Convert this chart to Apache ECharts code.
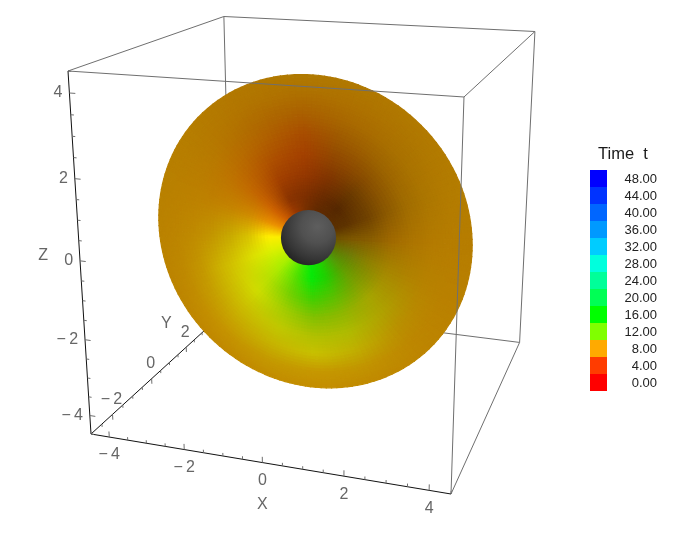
<!DOCTYPE html>
<html>
<head>
<meta charset="utf-8">
<style>html,body{margin:0;padding:0;background:#fff}#c{width:680px;height:537px}</style>
<script src="https://cdn.jsdelivr.net/npm/echarts@6/dist/echarts.min.js"></script>
</head>
<body>
<div id="c"></div>
<script>
// ---- data ----
const xRange = [-4.5, 4.5];
const yRange = [-3, 5];
const zRange = [-4.5, 4.5];
const xMajor = [-4, -2, 0, 2, 4];
const yMajor = [-2, 0, 2, 4];
const zMajor = [-4, -2, 0, 2, 4];
const xMinor = [-4.5, -3.5, -3, -2.5, -1.5, -1, -0.5, 0.5, 1, 1.5, 2.5, 3, 3.5, 4.5];
const yMinor = [-2.5, -1.5, -1, -0.5, 0.5, 1, 1.5, 2.5, 3, 3.5, 4.5];
const zMinor = [-4.5, -3.5, -3, -2.5, -1.5, -1, -0.5, 0.5, 1, 1.5, 2.5, 3, 3.5, 4.5];
const legendTitle = 'Time  t';
const legendValues = ['0.00', '4.00', '8.00', '12.00', '16.00', '20.00', '24.00', '28.00', '32.00', '36.00', '40.00', '44.00', '48.00'];
const legendColors = ['#ff0000', '#ff3c00', '#ffaa00', '#80ff00', '#00ff00', '#00ff55', '#00ff99', '#00ffdd', '#00ccff', '#0099ff', '#0066ff', '#0033ff', '#0000ff'];

// disc samples: radial fractions, screen bearings (deg, clockwise from east), colour per bearing from centre to rim
const discRings = [0.14, 0.27, 0.40, 0.52, 0.65, 0.77, 0.89, 1.0];
const discBearings = [0, 20, 45, 70, 90, 110, 135, 160, 180, 200, 220, 245, 270, 290, 315, 340];
const discColors = [
  ['#6a5000', '#7d5800', '#8a5f00', '#a06a00', '#ad7500', '#b47b00', '#b67d00', '#b67d00'],
  ['#5f7000', '#6f7a08', '#8e8000', '#a58400', '#b08300', '#b78200', '#b98000', '#b98000'],
  ['#45a010', '#5aa000', '#7da000', '#a5a500', '#b0a000', '#b99000', '#bd8700', '#bd8500'],
  ['#20d800', '#20d000', '#58c000', '#8cb800', '#b0bb00', '#c0b000', '#c29500', '#c08a00'],
  ['#08ec08', '#08e808', '#40d000', '#80c000', '#b0c000', '#c8c000', '#c69800', '#c48e00'],
  ['#40f000', '#50e000', '#70d000', '#a0cc00', '#c0c800', '#c6b500', '#c49a00', '#c28c00'],
  ['#a8f000', '#a8ee00', '#b8e000', '#d0dc00', '#ccc000', '#c8a800', '#c59200', '#c08800'],
  ['#d8f000', '#dcf000', '#dce000', '#d4c800', '#ccb000', '#c49800', '#bf8a00', '#bc8400'],
  ['#f8f000', '#ffee00', '#d8c000', '#c8a800', '#c29400', '#bf8a00', '#bc8400', '#ba8200'],
  ['#f09000', '#e89000', '#cf8a00', '#c58400', '#bf8000', '#bc8000', '#ba8000', '#b88000'],
  ['#d06000', '#cc6000', '#c46500', '#c06c00', '#bc7400', '#b87a00', '#b67c00', '#b67e00'],
  ['#a03c00', '#8a3400', '#a24000', '#ae5000', '#b26200', '#b06c00', '#b27500', '#b27800'],
  ['#703000', '#7c2f00', '#953800', '#a34000', '#a84c00', '#aa5f00', '#ae7000', '#b07a00'],
  ['#5d2a00', '#6a2c00', '#803400', '#8f4500', '#9c5800', '#a86800', '#ae7200', '#b07800'],
  ['#5e2e00', '#552800', '#6b3b00', '#874d00', '#9c6300', '#a87000', '#ae7600', '#b27a00'],
  ['#5a3000', '#5f3400', '#704200', '#8a5800', '#a06c00', '#ab7600', '#b27b00', '#b47d00']
];

// ---- view: perspective of the box, and the tilted disc ----
const VIEW = { O: [91, 434], A: [451, 494], B: [231.2, 306.1], C: [68, 71], a: 0.9086, b: 1.27, c: 0.9121 };
const DISC = { centre: [315.5, 231.2], major: 163.5, minor: 149.5, shift: 9.2 };
const SPHERE_R = 27.6;
const LABEL_FONT = '16px "Liberation Sans", Arial, sans-serif';
const GREY = '#6f6f6f';

function project(x, y, z) {
  const u = (x - xRange[0]) / (xRange[1] - xRange[0]);
  const v = (y - yRange[0]) / (yRange[1] - yRange[0]);
  const w = (z - zRange[0]) / (zRange[1] - zRange[0]);
  const den = 1 + (VIEW.a - 1) * u + (VIEW.b - 1) * v + (VIEW.c - 1) * w;
  const out = [0, 1].map(i =>
    (VIEW.O[i] + (VIEW.a * VIEW.A[i] - VIEW.O[i]) * u + (VIEW.b * VIEW.B[i] - VIEW.O[i]) * v + (VIEW.c * VIEW.C[i] - VIEW.O[i]) * w) / den);
  return out;
}
function discPoint(rho, bearing) {
  const th = (bearing - 45) * Math.PI / 180;
  const s = rho * Math.cos(th), t = rho * Math.sin(th);
  const k = DISC.shift / DISC.minor;
  const den = 1 + k * t;
  const p = DISC.major * Math.sqrt(1 - k * k) * s / den;
  const q = (DISC.minor * t + DISC.shift) / den;
  const r = Math.SQRT1_2;
  return [DISC.centre[0] + p * r - q * r, DISC.centre[1] + p * r + q * r];
}
function rgb(h) { return [1, 3, 5].map(i => parseInt(h.substr(i, 2), 16)); }
function mix(a, b, f) { return a.map((c, i) => c + (b[i] - c) * f); }

// box edges as pairs of ends
const X0 = xRange[0], X1 = xRange[1], Y0 = yRange[0], Y1 = yRange[1], Z0 = zRange[0], Z1 = zRange[1];
const backEdges = [
  [X0, Y1, Z0, X1, Y1, Z0], [X0, Y1, Z0, X0, Y1, Z1], [X1, Y1, Z0, X1, Y1, Z1],
  [X0, Y1, Z1, X1, Y1, Z1], [X0, Y0, Z1, X0, Y1, Z1], [X1, Y0, Z1, X1, Y1, Z1], [X1, Y0, Z0, X1, Y1, Z0]
];
const frontEdges = [[X0, Y0, Z1, X1, Y0, Z1], [X1, Y0, Z0, X1, Y0, Z1]];
const axisEdges = [[X0, Y0, Z0, X1, Y0, Z0], [X0, Y0, Z0, X0, Y0, Z1]];
const hiddenAxisEdge = [[X0, Y0, Z0, X0, Y1, Z0]];

function tickSegs(list, len, make) { return list.map(t => make(t, len)); }
const MAJ = 0.15, MIN = 0.08;
const xTickF = (t, l) => [t, Y0, Z0, t, Y0, Z0 + l];
const yTickF = (t, l) => [X0, t, Z0, X0, t, Z0 - l];
const zTickF = (t, l) => [X0, Y0, t, X0 + l, Y0, t];
const frontTicks = [].concat(
  tickSegs(xMajor, MAJ, xTickF), tickSegs(xMinor, MIN, xTickF),
  tickSegs(zMajor, MAJ, zTickF), tickSegs(zMinor, MIN, zTickF));
const hiddenTicks = [].concat(tickSegs(yMajor, MAJ, yTickF), tickSegs(yMinor, MIN, yTickF));

function lineSeries(data, color, z) {
  return {
    type: 'custom', coordinateSystem: 'cartesian2d', xAxisIndex: 0, yAxisIndex: 0, z, clip: false, silent: true, animation: false,
    data,
    renderItem(params, api) {
      const d = data[params.dataIndex];
      const p = api.coord(project(d[0], d[1], d[2])), q = api.coord(project(d[3], d[4], d[5]));
      return { type: 'line', shape: { x1: p[0], y1: p[1], x2: q[0], y2: q[1] }, style: { stroke: color, lineWidth: 1 }, silent: true };
    }
  };
}

// disc cells
const cells = [];
discBearings.forEach((b, i) => discRings.slice(0, -1).forEach((r, j) => cells.push([i, j])));
const SUB_A = 10, SUB_R = 6;
const discSeries = {
  type: 'custom', coordinateSystem: 'cartesian2d', xAxisIndex: 0, yAxisIndex: 0, z: 5, clip: false, silent: true, animation: false,
  progressive: 0, data: cells,
  renderItem(params, api) {
    const [i, j] = cells[params.dataIndex];
    const i2 = (i + 1) % discBearings.length;
    const b0 = discBearings[i], b1 = i2 === 0 ? 360 : discBearings[i2];
    const r0 = discRings[j], r1 = discRings[j + 1];
    const c00 = rgb(discColors[i][j]), c01 = rgb(discColors[i][j + 1]), c10 = rgb(discColors[i2][j]), c11 = rgb(discColors[i2][j + 1]);
    const children = [];
    for (let a = 0; a < SUB_A; a++) for (let n = 0; n < SUB_R; n++) {
      const fa0 = a / SUB_A, fa1 = (a + 1) / SUB_A, fr0 = n / SUB_R, fr1 = (n + 1) / SUB_R;
      const B0 = b0 + (b1 - b0) * fa0, B1 = b0 + (b1 - b0) * fa1, R0 = r0 + (r1 - r0) * fr0, R1 = r0 + (r1 - r0) * fr1;
      const pts = [[R0, B0], [R1, B0], [R1, B1], [R0, B1]].map(q => api.coord(discPoint(q[0], q[1])));
      const fa = (fa0 + fa1) / 2, fr = (fr0 + fr1) / 2;
      const c = mix(mix(c00, c01, fr), mix(c10, c11, fr), fa).map(Math.round);
      const col = 'rgb(' + c.join(',') + ')';
      children.push({ type: 'polygon', shape: { points: pts }, style: { fill: col, stroke: col, lineWidth: 1.2 }, silent: true });
    }
    return { type: 'group', children };
  }
};

const sphereSeries = {
  type: 'custom', coordinateSystem: 'cartesian2d', xAxisIndex: 0, yAxisIndex: 0, z: 6, clip: false, silent: true, animation: false,
  data: [[0, 0, 0]],
  renderItem(params, api) {
    const c = api.coord(project(0, 0, 0));
    return {
      type: 'circle', shape: { cx: c[0] + 0.2, cy: c[1] + 0.6, r: SPHERE_R }, silent: true,
      style: { fill: { type: 'radial', x: 0.66, y: 0.3, r: 0.85, colorStops: [
        { offset: 0, color: '#5e5e5e' }, { offset: 0.35, color: '#505050' }, { offset: 0.7, color: '#353535' }, { offset: 1, color: '#191919' }] } }
    };
  }
};

// text labels
const labels = [];
const tickText = v => v < 0 ? '\u2212\u2009' + (-v) : String(v);
xMajor.forEach(v => labels.push({ at: [v, Y0, Z0], dx: 0, dy: 18, text: tickText(v), align: 'center' }));
yMajor.slice(0, 3).forEach(v => labels.push({ at: [X0, v, Z0], dx: -1, dy: -15, text: tickText(v), align: 'center' }));
zMajor.forEach(v => labels.push({ at: [X0, Y0, v], dx: -7, dy: 0, text: tickText(v), align: 'right' }));
labels.push({ at: [0, Y0, Z0], dx: 0, dy: 42, text: 'X', align: 'center' });
labels.push({ at: [X0, 1, Z0], dx: -3, dy: -39, text: 'Y', align: 'center' });
labels.push({ at: [X0, Y0, 0], dx: -37, dy: -5, text: 'Z', align: 'center' });
const labelSeries = {
  type: 'custom', coordinateSystem: 'cartesian2d', xAxisIndex: 0, yAxisIndex: 0, z: 8, clip: false, silent: true, animation: false,
  data: labels.map((l, i) => [i]),
  renderItem(params, api) {
    const l = labels[params.dataIndex];
    const c = api.coord(project(l.at[0], l.at[1], l.at[2]));
    return { type: 'text', silent: true, style: { text: l.text, x: c[0] + l.dx, y: c[1] + l.dy, fill: '#666666', font: LABEL_FONT, align: l.align, verticalAlign: 'middle' } };
  }
};

const chart = echarts.init(document.getElementById('c'), null, { renderer: 'canvas' });
chart.setOption({
  backgroundColor: '#ffffff',
  animation: false,
  title: { text: legendTitle, left: 598, top: 146, padding: 0, textStyle: { fontFamily: '"Liberation Sans", Arial, sans-serif', fontSize: 16.5, fontWeight: 'normal', color: '#1a1a1a' } },
  grid: [
    { left: 0, top: 0, width: 680, height: 537, show: false },
    { left: 590, top: 170, width: 17, height: 221, show: false }
  ],
  xAxis: [
    { type: 'value', gridIndex: 0, min: 0, max: 680, show: false },
    { type: 'value', gridIndex: 1, min: 0, max: 1, show: false }
  ],
  yAxis: [
    { type: 'value', gridIndex: 0, min: 0, max: 537, inverse: true, show: false },
    { type: 'category', gridIndex: 1, data: legendValues, position: 'right',
      axisLine: { show: false }, axisTick: { show: false }, splitLine: { show: false },
      axisLabel: { show: true, interval: 0, align: 'right', verticalAlign: 'top', lineHeight: 2, margin: 50, color: '#222222', fontSize: 13, fontFamily: '"Liberation Sans", Arial, sans-serif' } }
  ],
  series: [
    lineSeries(backEdges, GREY, 1),
    lineSeries(hiddenAxisEdge, '#111111', 2),
    lineSeries(hiddenTicks, GREY, 2),
    discSeries,
    sphereSeries,
    lineSeries(frontEdges, GREY, 7),
    lineSeries(axisEdges, '#111111', 7),
    lineSeries(frontTicks, GREY, 7),
    labelSeries,
    { type: 'bar', xAxisIndex: 1, yAxisIndex: 1, barWidth: '100%', silent: true, animation: false, z: 3,
      data: legendColors.map(c => ({ value: 1, itemStyle: { color: c } })) }
  ]
});
</script>
</body>
</html>
